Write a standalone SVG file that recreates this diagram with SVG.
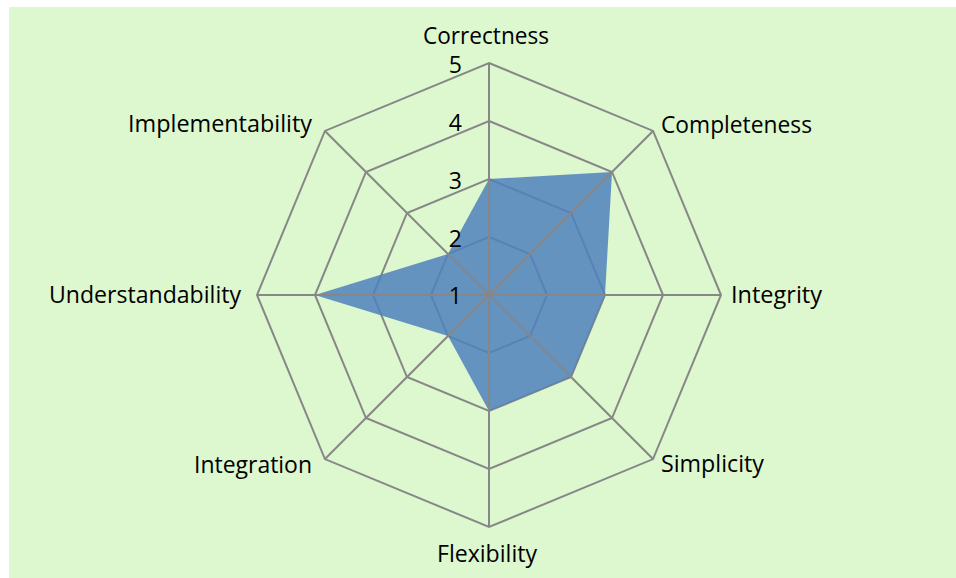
<svg xmlns="http://www.w3.org/2000/svg" width="956" height="578" viewBox="0 0 956 578">
<style>
.grid{fill:none;stroke:#878787;stroke-width:2}
.axis{stroke:#878787;stroke-width:2}
.lbl{font-family:"Open Sans","Liberation Sans",sans-serif;font-size:23px;fill:#000}
.num{font-family:"Open Sans","Liberation Sans",sans-serif;font-size:23px;fill:#000;text-anchor:end}
</style>
<rect x="0" y="0" width="956" height="578" fill="#ffffff"/>
<rect x="9" y="7" width="947" height="571" fill="#DDF7CE"/>
<g id="grid">
<polygon class="grid" points="489,237 530.01,253.99 547,295 530.01,336.01 489,353 447.99,336.01 431,295 447.99,253.99"/>
<polygon class="grid" points="489,179 571.02,212.98 605,295 571.02,377.02 489,411 406.98,377.02 373,295 406.98,212.98"/>
<polygon class="grid" points="489,121 612.04,171.96 663,295 612.04,418.04 489,469 365.96,418.04 315,295 365.96,171.96"/>
<polygon class="grid" points="489,63 653.05,130.95 721,295 653.05,459.05 489,527 324.95,459.05 257,295 324.95,130.95"/>
</g>
<g id="series">
<polygon points="489,179 612.04,171.96 605,295 571.02,377.02 489,411 447.99,336.01 315,295 447.99,253.99" fill="#4F81BD" fill-opacity="0.85"/>
</g>
<g id="connectors">
<line class="axis" x1="489" y1="295" x2="489" y2="63"/>
<line class="axis" x1="489" y1="295" x2="653.05" y2="130.95"/>
<line class="axis" x1="489" y1="295" x2="721" y2="295"/>
<line class="axis" x1="489" y1="295" x2="653.05" y2="459.05"/>
<line class="axis" x1="489" y1="295" x2="489" y2="527"/>
<line class="axis" x1="489" y1="295" x2="324.95" y2="459.05"/>
<line class="axis" x1="489" y1="295" x2="257" y2="295"/>
<line class="axis" x1="489" y1="295" x2="324.95" y2="130.95"/>
</g>
<g id="scale">
<text class="num" x="462" y="73">5</text>
<text class="num" x="462" y="131">4</text>
<text class="num" x="462" y="189">3</text>
<text class="num" x="462" y="247">2</text>
<text class="num" x="462" y="304">1</text>
</g>
<g id="node-correctness"><text class="lbl" x="423" y="44" textLength="126" lengthAdjust="spacingAndGlyphs">Correctness</text></g>
<g id="node-completeness"><text class="lbl" x="661" y="133" textLength="151" lengthAdjust="spacingAndGlyphs">Completeness</text></g>
<g id="node-integrity"><text class="lbl" x="731" y="303" textLength="91" lengthAdjust="spacingAndGlyphs">Integrity</text></g>
<g id="node-simplicity"><text class="lbl" x="661" y="472" textLength="103" lengthAdjust="spacingAndGlyphs">Simplicity</text></g>
<g id="node-flexibility"><text class="lbl" x="437" y="562" textLength="100" lengthAdjust="spacingAndGlyphs">Flexibility</text></g>
<g id="node-integration"><text class="lbl" x="194" y="473" textLength="118" lengthAdjust="spacingAndGlyphs">Integration</text></g>
<g id="node-understandability"><text class="lbl" x="49" y="303" textLength="192" lengthAdjust="spacingAndGlyphs">Understandability</text></g>
<g id="node-implementability"><text class="lbl" x="128" y="132" textLength="184" lengthAdjust="spacingAndGlyphs">Implementability</text></g>
</svg>
